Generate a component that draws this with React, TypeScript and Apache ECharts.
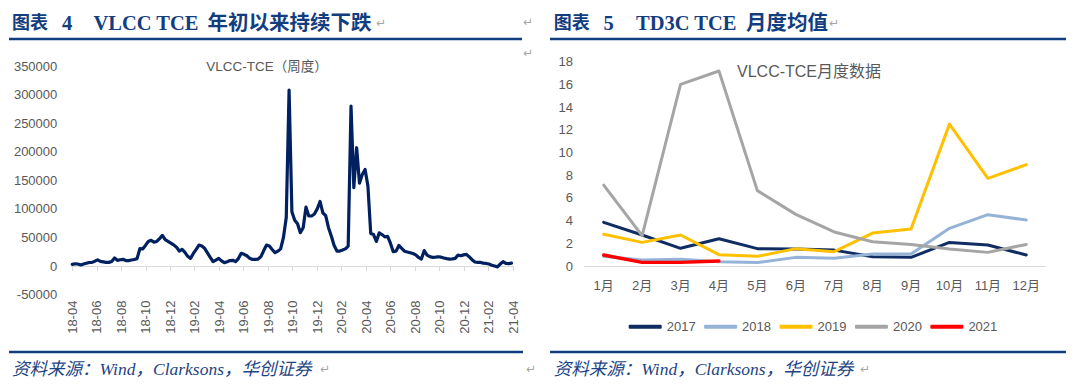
import React, { useEffect, useRef } from "react";
import * as echarts from "echarts";

// ---------- Left chart: VLCC-TCE weekly (from 2018-04, one value per week) ----------
const leftTickLabels = [
  "18-04", "18-06", "18-08", "18-10", "18-12", "19-02", "19-04", "19-06", "19-08", "19-10",
  "19-12", "20-02", "20-04", "20-06", "20-08", "20-10", "20-12", "21-02", "21-04",
];
const weeklyTce = [
  2900, 4000, 3500, 1800, 3500, 4800, 6200, 6400, 8500, 10800,
  8000, 7200, 6500, 6400, 8000, 14000, 10000, 11000, 11700, 9600,
  9500, 10500, 11500, 13000, 30300, 30000, 36000, 43000, 45000, 41900,
  43000, 48000, 53600, 46000, 43000, 40000, 37000, 33000, 26200, 29000,
  23900, 17000, 13400, 22000, 29000, 36700, 35000, 31000, 23000, 15000,
  7600, 10500, 13400, 9000, 5800, 7500, 9500, 10000, 7600, 13000,
  22200, 20500, 18000, 13500, 11500, 11700, 12200, 16500, 27000, 36700,
  35000, 29000, 23300, 26000, 30000, 50000, 85000, 308000, 95000, 80000,
  74000, 58300, 67000, 103000, 87500, 87500, 91000, 100000, 113000, 93000,
  88000, 67000, 52500, 36000, 26200, 26200, 28000, 30000, 35000, 280000,
  137000, 207000, 145000, 160000, 169000, 140000, 57000, 55000, 43000, 58000,
  55000, 51000, 52000, 40000, 25000, 26000, 36000, 31000, 26000, 24500,
  23300, 22000, 19500, 15000, 12200, 27000, 19000, 16500, 15000, 15500,
  16300, 15500, 14000, 13000, 12200, 12500, 13500, 19000, 18000, 19500,
  20500, 16000, 11000, 7000, 6500, 6300, 5000, 4500, 3500, 1500,
  0, -1500, 3500, 7600, 4500, 4200, 5000,
];
const DAYS_PER_WEEK = 7;
const DAYS_PER_MONTH = 30.4375;

// ---------- Right chart: TD3C TCE monthly means ----------
const monthLabels = ["1月", "2月", "3月", "4月", "5月", "6月", "7月", "8月", "9月", "10月", "11月", "12月"];
const yearNames = ["2017", "2018", "2019", "2020", "2021"];
const tce2017 = [3.85, 2.73, 1.56, 2.4, 1.53, 1.5, 1.4, 0.82, 0.76, 2.08, 1.85, 0.97];
const tce2018 = [0.85, 0.53, 0.59, 0.38, 0.3, 0.76, 0.68, 1.06, 1.06, 3.32, 4.52, 4.05];
const tce2019 = [2.79, 2.08, 2.73, 1.0, 0.85, 1.53, 1.26, 2.9, 3.26, 12.5, 7.72, 8.93];
const tce2020 = [7.13, 2.67, 16.0, 17.18, 6.64, 4.55, 3.0, 2.14, 1.9, 1.5, 1.2, 1.9];
const tce2021 = [0.97, 0.32, 0.32, 0.44];
const yearSeries = [tce2017, tce2018, tce2019, tce2020, tce2021];
const yearColors = ["#0f2d62", "#95b3d7", "#ffc000", "#a5a5a5", "#ff0000"];

const SANS = "'Liberation Sans', 'Noto Sans CJK SC', sans-serif";
const SERIF = "'Liberation Serif', 'Noto Sans CJK SC', serif";
const AXIS_GRAY = "#595959";
const NAVY = "#123d7e";
const RET = "#a6a6a6";

function txt(text: string, x: number, y: number, style: Record<string, any>) {
  return {
    type: "text",
    x,
    y,
    silent: true,
    style: { text, verticalAlign: "middle", align: "left", ...style },
  };
}
function hline(x1: number, x2: number, y: number) {
  return {
    type: "line",
    silent: true,
    shape: { x1, y1: y, x2, y2: y },
    style: { stroke: NAVY, lineWidth: 2.5 },
  };
}

export default function App() {
  const ref = useRef<HTMLDivElement>(null);

  useEffect(() => {
    if (!ref.current) return;
    const chart = echarts.init(ref.current, null, { renderer: "svg" });

    const titleBold = { fill: NAVY, fontWeight: "bold", fontFamily: SERIF };
    const srcStyle = { fill: "#1d4484", fontStyle: "italic", fontFamily: SERIF, fontSize: 17.5 };
    const retStyle = { fill: RET, fontFamily: "'DejaVu Sans', sans-serif", fontSize: 12 };

    const option: any = {
      animation: false,
      backgroundColor: "#ffffff",
      grid: [
        { left: 72.3, top: 66, width: 440.7, height: 228.6 },
        { left: 584.5, top: 61.7, width: 461, height: 204.3 },
      ],
      xAxis: [
        {
          type: "value",
          gridIndex: 0,
          min: 0,
          max: 36,
          interval: 2,
          axisLine: { show: true, onZero: true, lineStyle: { color: "#d9d9d9", width: 1 } },
          axisTick: { show: true, length: 5, lineStyle: { color: "#d9d9d9" } },
          splitLine: { show: false },
          axisLabel: {
            rotate: 90,
            margin: 6,
            color: AXIS_GRAY,
            fontSize: 13,
            fontFamily: SANS,
            showMinLabel: true,
            showMaxLabel: true,
            formatter: (v: number) => leftTickLabels[Math.round(v / 2)] ?? "",
          },
        },
        {
          type: "category",
          gridIndex: 1,
          data: monthLabels,
          boundaryGap: true,
          axisLine: { show: true, lineStyle: { color: "#d9d9d9", width: 1 } },
          axisTick: { show: false },
          splitLine: { show: false },
          axisLabel: { interval: 0, margin: 13, color: AXIS_GRAY, fontSize: 13, fontFamily: SANS },
        },
      ],
      yAxis: [
        {
          type: "value",
          gridIndex: 0,
          min: -50000,
          max: 350000,
          interval: 50000,
          axisLine: { show: false },
          axisTick: { show: false },
          splitLine: { show: false },
          axisLabel: {
            margin: 15,
            color: AXIS_GRAY,
            fontSize: 13,
            fontFamily: SANS,
            formatter: (v: number) => String(v),
          },
        },
        {
          type: "value",
          gridIndex: 1,
          min: 0,
          max: 18,
          interval: 2,
          axisLine: { show: false },
          axisTick: { show: false },
          splitLine: { show: false },
          axisLabel: {
            margin: 11.5,
            color: AXIS_GRAY,
            fontSize: 13,
            fontFamily: SANS,
            formatter: (v: number) => String(v),
          },
        },
      ],
      legend: {
        data: yearNames,
        left: 628.7,
        top: 318.7,
        padding: 0,
        icon: "roundRect",
        itemWidth: 33,
        itemHeight: 4,
        itemGap: 8.5,
        selectedMode: false,
        textStyle: { color: AXIS_GRAY, fontSize: 13, fontFamily: SANS, lineHeight: 16 },
      },
      series: [
        {
          type: "line",
          name: "VLCC-TCE",
          xAxisIndex: 0,
          yAxisIndex: 0,
          data: weeklyTce.map((v, i) => [(i * DAYS_PER_WEEK) / DAYS_PER_MONTH, v]),
          showSymbol: false,
          symbol: "none",
          silent: true,
          color: "#002060",
          lineStyle: { color: "#002060", width: 3.2, join: "round", cap: "round" },
        },
        ...yearNames.map((name, k) => ({
          type: "line",
          name,
          xAxisIndex: 1,
          yAxisIndex: 1,
          data: yearSeries[k],
          showSymbol: false,
          symbol: "none",
          silent: true,
          color: yearColors[k],
          itemStyle: { color: yearColors[k] },
          lineStyle: { color: yearColors[k], width: k === 4 ? 3.4 : 3, join: "round", cap: "round" },
        })),
      ],
      graphic: [
        // left header
        txt("图表", 12, 23, { ...titleBold, fontSize: 18 }),
        txt("4", 62, 23, { ...titleBold, fontSize: 20.5 }),
        txt("VLCC TCE", 93.4, 23, { ...titleBold, fontSize: 20.5 }),
        txt("年初以来持续下跌", 207.6, 23, { ...titleBold, fontSize: 20.5 }),
        txt("↵", 376, 23, retStyle),
        txt("↵", 523, 22, retStyle),
        txt("↵", 523, 53, retStyle),
        hline(9, 522, 39),
        // right header
        txt("图表", 553.7, 23, { ...titleBold, fontSize: 18 }),
        txt("5", 603.6, 23, { ...titleBold, fontSize: 20.5 }),
        txt("TD3C TCE", 636, 23, { ...titleBold, fontSize: 20.5 }),
        txt("月度均值", 746, 23, { ...titleBold, fontSize: 20.5 }),
        txt("↵", 829, 23, retStyle),
        hline(550, 1066, 39),
        // chart titles
        txt("VLCC-TCE（周度）", 267, 66, { fill: AXIS_GRAY, fontSize: 13.5, fontFamily: SANS, align: "center" }),
        txt("VLCC-TCE月度数据", 809, 71.7, { fill: AXIS_GRAY, fontSize: 16, fontFamily: SANS, align: "center" }),
        // footers
        hline(9, 523, 352),
        hline(550, 1066, 352),
        txt("资料来源：Wind，Clarksons，华创证券", 12, 369, srcStyle),
        txt("↵", 320, 369, retStyle),
        txt("↵", 526, 369, retStyle),
        txt("资料来源：Wind，Clarksons，华创证券", 553.7, 369, srcStyle),
        txt("↵", 860, 369, retStyle),
      ],
    };

    chart.setOption(option);
    return () => chart.dispose();
  }, []);

  return (
    <div
      ref={ref}
      style={{ position: "fixed", left: 0, top: 0, width: 1076, height: 390, background: "#ffffff" }}
    />
  );
}
